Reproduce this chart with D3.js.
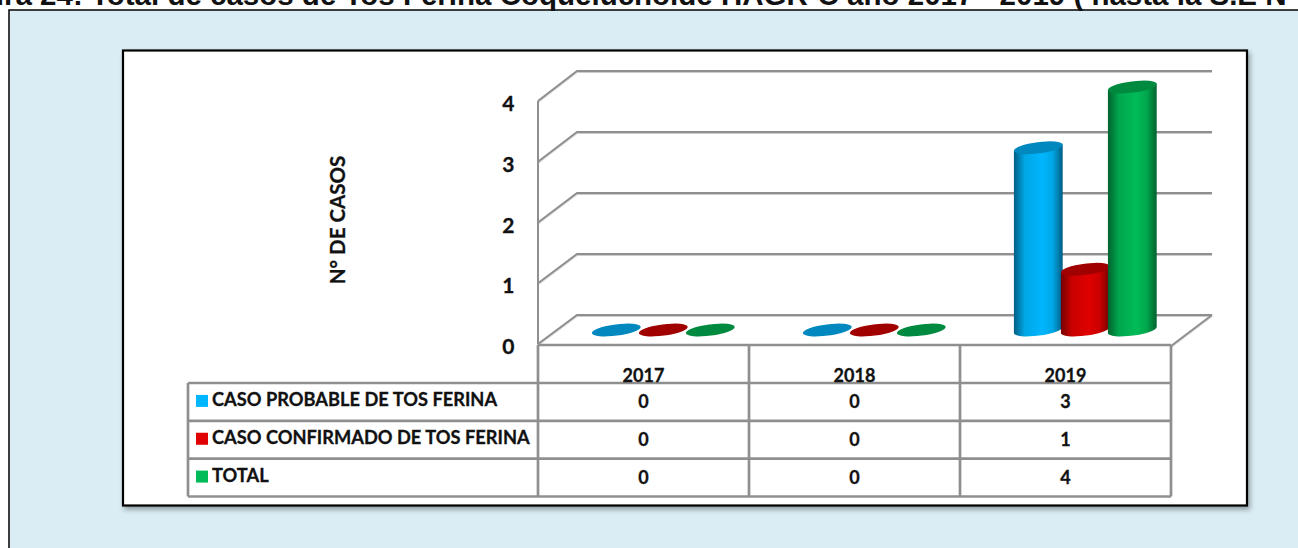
<!DOCTYPE html>
<html><head><meta charset="utf-8">
<script src="https://cdn.jsdelivr.net/npm/d3@7/dist/d3.min.js"></script>
<style>html,body{margin:0;padding:0;background:#fff;overflow:hidden}svg{display:block}
text{font-family:Lato,Carlito,sans-serif;font-weight:700;fill:#111;stroke:#111;stroke-width:.3px}</style></head>
<body><svg id="c" width="1298" height="548"></svg>
<script>
const titleText = "ura 24: Total de casos de Tos Ferina Coqueluchoide HAGR-C año 2017 - 2019 ( hasta la S.E N";
const categories = ["2017","2018","2019"];
const seriesNames = ["CASO PROBABLE DE TOS FERINA","CASO CONFIRMADO DE TOS FERINA","TOTAL"];
const probable = [0,0,3];
const confirmado = [0,0,1];
const total = [0,0,4];
const yTicks = [0,1,2,3,4];
const yTitle = "N° DE CASOS";
const seriesValues = [probable, confirmado, total];
const palette = [
 {base:"#00a6e4",edge:"#005d85",mid:"#00b6ff",top:"#0088bf"},
 {base:"#c80000",edge:"#760000",mid:"#e00000",top:"#a00000"},
 {base:"#00a64c",edge:"#00632f",mid:"#00bb58",top:"#008a3f"}
];
const gridCol="#8f8f8f";
const svg=d3.select("#c");
const defs=svg.append("defs");
const sh=defs.append("filter").attr("id","sh").attr("x","-3%").attr("y","-3%").attr("width","106%").attr("height","106%");
sh.append("feDropShadow").attr("dx",2).attr("dy",3).attr("stdDeviation",2.5).attr("flood-color","#000").attr("flood-opacity",.35);
const ls=defs.append("filter").attr("id","ls").attr("x","-5%").attr("y","-50%").attr("width","110%").attr("height","200%");
ls.append("feDropShadow").attr("dx",0).attr("dy",1).attr("stdDeviation",.7).attr("flood-color","#000").attr("flood-opacity",.2);
palette.forEach((p,i)=>{
  const g=defs.append("linearGradient").attr("id","g"+i);
  [[0,p.edge],[.22,p.base],[.58,p.mid],[.8,p.base],[1,p.edge]].forEach(s=>g.append("stop").attr("offset",s[0]).attr("stop-color",s[1]));
});
// page background
svg.append("rect").attr("x",9).attr("y",10).attr("width",1295).attr("height",545).attr("fill","#daedf4").attr("stroke","#111").attr("stroke-width",1.6);
svg.append("text").attr("x",-14).attr("y",5).attr("font-size",29.5).style("font-family","'Liberation Sans',Arial,sans-serif").style("stroke","none").text(titleText);
svg.append("rect").attr("x",123).attr("y",50.5).attr("width",1124).attr("height",455).attr("fill","#fff").attr("stroke","#000").attr("stroke-width",2.2).attr("filter","url(#sh)");

// scales
const x=d3.scaleBand().domain(categories).range([538,1171]);
const yFront=d3.scaleLinear().domain([0,4]).range([344,101]);
const yBack=d3.scaleLinear().domain([0,4]).range([315,71]);
const yBar=d3.scaleLinear().domain([0,4]).range([330,87]);
const s=d3.scalePoint().domain(d3.range(3)).range([78.3,172.3]);
const backDx=39, backR=1212;

const grid=svg.append("g").attr("fill","none").attr("stroke",gridCol).attr("stroke-width",2).attr("filter","url(#ls)");
yTicks.forEach(t=>{
  grid.append("path").attr("d",`M${538},${yFront(t)}L${538+backDx},${yBack(t)}L${backR},${yBack(t)}`);
});
grid.append("path").attr("d",`M538,${yFront(4)}L538,${yFront(0)}`);
grid.append("path").attr("d",`M${backR},${yBack(0)}L1171,346`);

// y axis labels
const ax=svg.append("g").attr("transform","translate(518.5,3)").call(d3.axisLeft(yFront).tickValues(yTicks).tickSize(0).tickPadding(4).tickFormat(d3.format("d")));
ax.select(".domain").remove();
ax.selectAll("text").attr("font-size",21).style("font-family","Lato");
svg.append("text").attr("transform","translate(345,220) rotate(-90)").attr("text-anchor","middle").attr("font-size",20.5).text(yTitle);

// cylinders
const rx=24.6, ry=5.6, tilt=-7.5, rad=tilt*Math.PI/180;
const dx=rx*Math.cos(rad), dy=rx*Math.sin(rad);
seriesValues.forEach((vals,si)=>{
  const g=svg.append("g");
  vals.forEach((v,ci)=>{
    const cx=x(categories[ci])+s(si);
    const y0=yBar(0), y1=yBar(v);
    if(v>0){
      g.append("path").attr("fill",`url(#g${si})`)
       .attr("d",`M${cx-dx},${y1-dy}L${cx-dx},${y0-dy}A${rx},${ry} ${tilt} 0 0 ${cx+dx},${y0+dy}L${cx+dx},${y1+dy}Z`);
    }
    g.append("ellipse").attr("cx",0).attr("cy",0).attr("rx",rx).attr("ry",ry)
     .attr("transform",`translate(${cx},${y1}) rotate(${tilt})`).attr("fill",palette[si].top);
  });
});

// data table
const rowY=d3.scaleBand().domain(d3.range(3)).range([383,496.5]);
const tbl=svg.append("g").attr("fill","none").attr("stroke",gridCol).attr("stroke-width",2.7);
tbl.append("path").attr("d",`M538,345H1171`);
[538,...categories.map(c=>x(c)+x.bandwidth())].forEach(v=>tbl.append("path").attr("d",`M${v},345V496.5`));
d3.range(4).forEach(i=>{const yy=i<3?rowY(i):rowY.range()[1];tbl.append("path").attr("d",`M188,${yy}H1171`)});
tbl.append("path").attr("d",`M188,383V496.5`);
categories.forEach(c=>svg.append("text").attr("x",x(c)+x.bandwidth()/2).attr("y",382).attr("text-anchor","middle").attr("font-size",18).text(c));
seriesNames.forEach((n,i)=>{
  const ym=rowY(i)+rowY.bandwidth()/2-2;
  svg.append("rect").attr("x",196).attr("y",ym-5).attr("width",12).attr("height",12).attr("fill",palette[i].mid);
  svg.append("text").attr("x",212).attr("y",ym+6).attr("font-size",18.25).text(n);
  seriesValues[i].forEach((v,ci)=>svg.append("text").attr("x",x(categories[ci])+x.bandwidth()/2).attr("y",ym+8).attr("text-anchor","middle").attr("font-size",18).text(v));
});
</script></body></html>
